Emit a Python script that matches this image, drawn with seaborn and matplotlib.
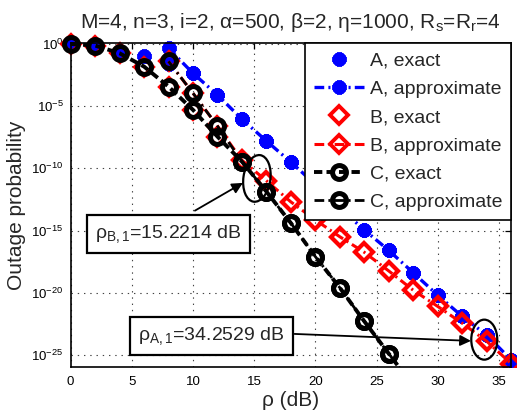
import numpy as np
import pandas as pd
import matplotlib
matplotlib.use("Agg")
import matplotlib.pyplot as plt
import seaborn as sns
from matplotlib.patches import Ellipse
from matplotlib.transforms import Bbox, TransformedBbox, IdentityTransform

nan = np.nan

# ---------------- data (log10 of outage probability) ----------------
rho_db = [0, 2, 4, 6, 8, 10, 12, 14, 16, 18, 20, 22, 24, 26, 28, 30, 32, 34, 36]

a_exact_log10 = [0, -0.13, -0.75, -1.0, -1.6, -2.36, -4.1, -6.05, -7.8, -9.5,
                 -11.3, -13.2, -14.95, -16.6, -18.4, -20.2, -21.9, -23.4, -25.4]
a_approx_log10 = [nan, nan, nan, nan, -0.35, -2.36, -4.1, -6.05, -7.8, -9.5,
                  -11.3, -13.2, -14.95, -16.6, -18.4, -20.2, -21.9, -23.4, -25.4]
b_exact_log10 = [0, -0.13, -0.75, -1.82, -3.43, -5.3, -7.45, -9.35, -11.0, -12.7,
                 -14.15, -15.5, -16.75, -18.25, -19.8, -21.1, -22.45, -23.9, -25.7]
b_approx_log10 = [nan, nan, nan, nan, -1.4, -3.96, -6.6, -9.35, -11.0, -12.7,
                  -14.15, -15.5, -16.75, -18.25, -19.8, -21.1, -22.45, -23.9, -25.7]

c_rho_db = [0, 2, 4, 6, 8, 10, 12, 14, 16, 18, 20, 22, 24, 26, 28]
c_exact_log10 = [0, -0.13, -0.75, -1.82, -3.43, -5.3, -7.45, -9.46, -11.87, -14.4,
                 -17.1, -19.6, -22.3, -24.9, -27.5]
c_approx_log10 = [nan, nan, nan, nan, -1.4, -3.96, -6.6, -9.46, -11.87, -14.4,
                  -17.1, -19.6, -22.3, -24.9, -27.5]

series_labels = ["A, exact", "A, approximate", "B, exact", "B, approximate",
                 "C, exact", "C, approximate"]

title_text = (r"M=4, n=3, i=2, α=500, β=2, η=1000, "
              r"$\mathregular{R_s}$=$\mathregular{R_r}$=4")
xlabel_text = "ρ (dB)"
ylabel_text = "Outage probability"
note_b_text = r"$\mathregular{ρ_{B,1}}$=15.2214 dB"
note_a_text = r"$\mathregular{ρ_{A,1}}$=34.2529 dB"
note_b_xy = (15.2214, -10.81)     # ellipse centre (dB, log10 P)
note_a_xy = (33.8, -23.77)

# ---------------- style ----------------
sns.set_theme(style="white")
plt.rcParams["font.family"] = ["Liberation Sans", "DejaVu Sans"]
plt.rcParams["mathtext.fontset"] = "custom"
plt.rcParams["mathtext.rm"] = "Liberation Sans"
plt.rcParams["mathtext.it"] = "Liberation Sans:italic"
plt.rcParams["mathtext.bf"] = "Liberation Sans:bold"
plt.rcParams["lines.scale_dashes"] = False

W, H = 517, 415
fig = plt.figure(figsize=(W / 100, H / 100), dpi=100)
ax = fig.add_axes([70.6 / W, 1 - 367.4 / H, 440.6 / W, 324.1 / H])


def df_of(x, logs):
    d = pd.DataFrame({"rho": x, "p": np.power(10.0, np.array(logs, dtype=float))})
    return d.dropna()


blue, red, black = (0, 0, 1), (1, 0, 0), (0, 0, 0)
ast = (8, 2, 0)

common = dict(ax=ax, x="rho", y="p", errorbar=None, sort=True)
a_mk = dict(marker=ast, markersize=10, markeredgewidth=3.6, markeredgecolor=blue)
b_mk = dict(marker="D", markersize=9, markeredgewidth=2.8, markeredgecolor=red,
            markerfacecolor="none")
c_mk = dict(marker="o", markersize=10, markeredgewidth=3.6,
            markeredgecolor=black, markerfacecolor="none")

sns.lineplot(data=df_of(rho_db, a_exact_log10), **common, color=blue,
             linestyle="none", **a_mk, label=series_labels[0])
sns.lineplot(data=df_of(rho_db, a_approx_log10), **common, color=blue,
             linewidth=2.4, dashes=(7, 3, 1.5, 3), **a_mk,
             label=series_labels[1])
sns.lineplot(data=df_of(rho_db, b_exact_log10), **common, color=red,
             linestyle="none", **b_mk, label=series_labels[2])
sns.lineplot(data=df_of(rho_db, b_approx_log10), **common, color=red,
             linewidth=2.2, dashes=(7, 3, 1.5, 3), **b_mk,
             label=series_labels[3])
sns.lineplot(data=df_of(c_rho_db, c_exact_log10), **common, color=black,
             linewidth=2.8, dashes=(6, 3), **c_mk, label=series_labels[4])
sns.lineplot(data=df_of(c_rho_db, c_approx_log10), **common, color=black,
             linewidth=2.0, dashes=(7, 3, 1.5, 3), **c_mk,
             label=series_labels[5])

ax.set_yscale("log")
ax.set_xlim(0, 36)
ax.set_ylim(1e-26, 10 ** 0.05)
ax.set_xticks([0, 5, 10, 15, 20, 25, 30, 35])
ax.set_yticks([10.0 ** -k for k in (25, 20, 15, 10, 5, 0)])
ax.minorticks_off()
ax.yaxis.set_minor_locator(matplotlib.ticker.NullLocator())

# markers may overhang the frame (left/top/right), lines clipped at bottom
clip_box = TransformedBbox(Bbox([[-0.06, 0.0], [1.06, 1.08]]), ax.transAxes)
for ln in ax.lines:
    ln.set_clip_path(None)
    ln.set_clip_box(clip_box)

ax.grid(True, which="major", color="#444444", linestyle=(0, (1, 3.5)),
        linewidth=0.8)
for s in ax.spines.values():
    s.set_color("black")
    s.set_linewidth(1.2)
ax.tick_params(which="both", direction="in", top=True, right=True,
               length=4, width=0.9, labelsize=9.5, pad=5, colors="black")
ax.tick_params(axis="x", pad=6)

ax.set_title(title_text, fontsize=15, pad=11)
ax.set_xlabel(xlabel_text, fontsize=15, labelpad=2)
ax.set_ylabel(ylabel_text, fontsize=15, labelpad=4)

leg = ax.legend(loc="upper right", bbox_to_anchor=(1, 1), borderaxespad=0,
                fontsize=14, frameon=True, fancybox=False, framealpha=1,
                edgecolor="black", handlelength=2.6, handletextpad=0.3,
                labelspacing=0.55, borderpad=0.45, numpoints=1)
leg.get_frame().set_linewidth(1.2)
leg.set_zorder(10)

# ----- annotations -----
fig.canvas.draw()
def to_px(xd, logp):
    return ax.transData.transform((xd, 10.0 ** logp))

bc = to_px(*note_b_xy)
ax.add_patch(Ellipse(bc, 27, 47, angle=-8, fill=False, edgecolor="black",
                     linewidth=1.6, transform=IdentityTransform(), zorder=8,
                     clip_on=False))
ac = to_px(*note_a_xy)
ax.add_patch(Ellipse(ac, 26, 40, angle=0, fill=False, edgecolor="black",
                     linewidth=1.6, transform=IdentityTransform(), zorder=8,
                     clip_on=False))

box = dict(boxstyle="square,pad=0.42", facecolor="white", edgecolor="black",
           linewidth=1.6)
ax.annotate("", xy=(14.08, 10 ** -11.17), xytext=(10.16, 10 ** -13.4),
            arrowprops=dict(arrowstyle="-|>", color="black", lw=1.3,
                            mutation_scale=16, shrinkA=0, shrinkB=0), zorder=9)
ax.text(8.0, 10 ** -15.27, note_b_text, fontsize=14, ha="center",
        va="center", bbox=box, zorder=9)
ax.annotate("", xy=(32.71, 10 ** -23.87), xytext=(18.3, 10 ** -23.31),
            arrowprops=dict(arrowstyle="-|>", color="black", lw=1.3,
                            mutation_scale=16, shrinkA=0, shrinkB=0), zorder=9)
ax.text(11.5, 10 ** -23.47, note_a_text, fontsize=14, ha="center",
        va="center", bbox=box, zorder=9)

fig.savefig("out.png", dpi=100)
